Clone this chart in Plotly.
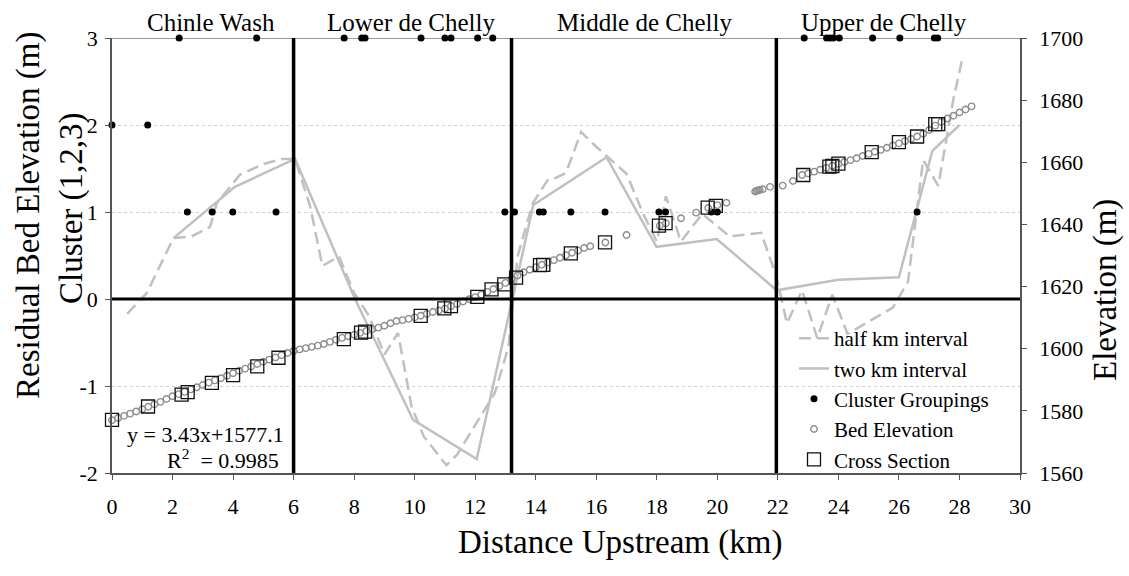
import plotly.graph_objects as go

# ---------------- data ----------------
# half km interval residuals (left axis, m)
half_x = [0.5, 1.15, 2.03, 2.63, 3.24, 3.46, 4.23, 5.0, 5.6, 6.05, 6.55, 6.95, 7.5, 8.0, 8.5, 9.0, 9.45, 9.9, 10.3, 11.05, 11.4, 12.0, 12.65, 13.1, 13.4, 13.9, 14.4, 14.65, 15.0, 15.5, 16.0, 17.0, 17.55, 18.0, 18.3, 18.8, 19.5, 20.4, 21.45, 21.95, 22.3, 22.8, 23.3, 23.8, 24.3, 24.8, 25.3, 25.8, 26.3, 26.8, 27.3, 27.8, 28.1]
half_y = [-0.17, 0.07, 0.70, 0.72, 0.83, 1.10, 1.43, 1.55, 1.61, 1.61, 1.06, 0.38, 0.49, 0.07, -0.2, -0.64, -0.39, -1.24, -1.58, -1.91, -1.79, -1.45, -1.08, -0.55, 0.49, 1.10, 1.37, 1.39, 1.45, 1.92, 1.75, 1.44, 0.98, 0.66, 1.18, 0.66, 0.98, 0.72, 0.76, 0.26, -0.28, 0.10, -0.45, 0.05, -0.40, -0.30, -0.20, -0.10, 0.20, 1.60, 1.30, 2.30, 2.77]

# two km interval residuals (left axis, m)
two_x = [2.03, 4.06, 6.05, 8.03, 9.95, 12.05, 13.92, 16.34, 17.99, 19.98, 21.96, 24.0, 26.0, 27.1, 28.0]
two_y = [0.70, 1.29, 1.61, 0.00, -1.39, -1.84, 1.08, 1.63, 0.60, 0.69, 0.10, 0.22, 0.25, 1.70, 2.00]

# cluster groupings (left axis, cluster 1/2/3)
cluster_x = [2.22, 4.78, 7.67, 8.25, 8.36, 10.21, 11.0, 11.2, 12.08, 12.58,
             22.87, 23.61, 23.72, 23.83, 24.03, 25.13, 26.03, 27.17, 27.28,
             0.0, 1.18,
             2.49, 3.31, 3.99, 5.42,
             12.98, 13.3, 14.12, 14.25, 15.16, 16.29, 18.07, 18.29, 19.8, 20.0, 26.6]
cluster_y = [3, 3, 3, 3, 3, 3, 3, 3, 3, 3,
             3, 3, 3, 3, 3, 3, 3, 3, 3,
             2, 2,
             1, 1, 1, 1,
             1, 1, 1, 1, 1, 1, 1, 1, 1, 1, 1]

# bed elevation (right axis, m)
bed_x = [0.0, 0.2, 0.4, 0.6, 0.8, 1.0, 1.2, 1.4, 1.6, 1.8, 2.0, 2.2, 2.4, 2.6, 2.8, 3.0, 3.2, 3.4, 3.6, 3.8,
         4.0, 4.2, 4.4, 4.6, 4.8, 5.0, 5.2, 5.4, 5.6, 5.8, 6.0, 6.2, 6.4, 6.6, 6.8, 7.0, 7.2, 7.4, 7.6, 7.8,
         8.0, 8.2, 8.4, 8.6, 8.8, 9.0, 9.2, 9.4, 9.6, 9.8, 10.0, 10.2, 10.4, 10.6, 10.8, 11.0, 11.2, 11.4, 11.6, 11.8,
         12.0, 12.2, 12.4, 12.6, 12.8, 13.0, 13.2, 13.4, 13.6, 13.8, 14.0, 14.2, 14.4, 14.6, 14.8, 15.0, 15.2, 15.4, 15.6, 15.8,
         16.3, 17.0, 18.1, 18.3, 18.8, 19.3, 19.7, 20.0, 20.3,
         21.25, 21.3, 21.35, 21.4, 21.5, 21.74, 22.16, 22.5,
         22.8, 23.0, 23.2, 23.4, 23.6, 23.8, 24.0, 24.2, 24.4, 24.6, 24.8, 25.0, 25.2, 25.4, 25.6, 25.8,
         26.0, 26.2, 26.4, 26.6, 26.8, 27.0, 27.2, 27.4, 27.6, 27.8, 28.0, 28.2, 28.4]
bed_elev = [1577.0, 1577.7, 1578.4, 1579.1, 1579.8, 1580.5, 1581.3, 1582.1, 1582.9, 1583.8, 1584.7, 1585.4, 1586.1, 1586.9, 1587.6, 1588.3, 1589.1, 1589.8, 1590.5, 1591.3,
            1592.1, 1592.9, 1593.6, 1594.3, 1595.1, 1595.8, 1596.5, 1597.2, 1597.9, 1598.6, 1599.3, 1599.8, 1600.2, 1600.6, 1601.0, 1601.5, 1602.2, 1602.9, 1603.5, 1604.0,
            1604.5, 1605.1, 1605.7, 1606.3, 1606.8, 1607.4, 1608.2, 1608.9, 1609.2, 1609.6, 1610.1, 1610.6, 1611.2, 1611.8, 1612.3, 1612.9, 1613.7, 1614.4, 1615.2, 1615.9,
            1616.6, 1617.4, 1618.3, 1619.2, 1620.2, 1621.2, 1622.4, 1623.6, 1624.6, 1625.4, 1626.2, 1627.0, 1627.8, 1628.5, 1629.3, 1630.1, 1630.9, 1631.6, 1632.4, 1633.0,
            1634.2, 1636.6, 1639.6, 1640.4, 1642.0, 1643.8, 1645.3, 1646.2, 1647.0,
            1650.6, 1650.8, 1651.0, 1651.1, 1651.3, 1652.1, 1652.5, 1654.0,
            1655.9, 1656.4, 1657.0, 1657.6, 1658.2, 1658.9, 1659.5, 1660.1, 1660.7, 1661.3, 1662.0, 1662.7, 1663.4, 1664.0, 1664.7, 1665.4,
            1666.1, 1666.8, 1667.5, 1668.3, 1669.2, 1670.4, 1671.8, 1673.0, 1674.1, 1675.0, 1676.0, 1677.0, 1678.0]

# cross sections (right axis, m)
xs_x = [0.0, 1.19, 2.3, 2.5, 3.3, 4.0, 4.8, 5.5, 7.66, 8.23, 8.36, 10.2, 10.98, 11.2, 12.07, 12.54, 12.96, 13.35,
        14.14, 14.25, 15.16, 16.29, 18.07, 18.29, 19.68, 19.95, 22.84, 23.7, 23.8, 24.0, 25.1, 26.0, 26.6, 27.2, 27.3]
xs_elev = [1577.1, 1581.4, 1585.2, 1586.0, 1589.0, 1591.5, 1594.3, 1597.1, 1603.1, 1605.2, 1605.5, 1610.6, 1613.0, 1613.7,
           1616.7, 1619.1, 1620.7, 1622.9, 1626.9, 1627.0, 1630.7, 1634.2, 1639.6, 1640.4, 1645.4, 1646.0, 1655.9,
           1658.6, 1658.8, 1659.6, 1663.3, 1666.5, 1668.3, 1672.3, 1672.3]

region_names = ["Chinle Wash", "Lower de Chelly", "Middle de Chelly", "Upper de Chelly"]
region_centers = [3.27, 9.9, 17.6, 25.5]
region_bounds = [6.0, 13.2, 21.95]

x_ticks = list(range(0, 31, 2))
left_ticks = [-2, -1, 0, 1, 2, 3]
right_ticks = [1560, 1580, 1600, 1620, 1640, 1660, 1680, 1700]

# ---------------- figure ----------------
FONT = "Liberation Serif, Times New Roman, serif"
L, R, T, B = 112, 109, 38, 103
W, H = 1129, 576
PW, PH = W - L - R, H - T - B

def px_x(px):
    return (px - L) / PW

def px_y(py):
    return (H - B - py) / PH

fig = go.Figure()

fig.add_trace(go.Scatter(x=half_x, y=half_y, mode="lines", name="half km interval",
                         line=dict(color="#c0c0c0", width=2.5, dash="12px,6px"), legendrank=1))
fig.add_trace(go.Scatter(x=two_x, y=two_y, mode="lines", name="two km interval",
                         line=dict(color="#c0c0c0", width=2.5), legendrank=2))
fig.add_trace(go.Scatter(x=bed_x, y=bed_elev, mode="markers", name="Bed Elevation", yaxis="y2",
                         cliponaxis=False,
                         marker=dict(symbol="circle-open", size=6.5, color="#8e8e8e", line=dict(width=1.4)),
                         legendrank=4))
fig.add_trace(go.Scatter(x=xs_x, y=xs_elev, mode="markers", name="Cross Section", yaxis="y2",
                         cliponaxis=False,
                         marker=dict(symbol="square-open", size=13, color="#111111", line=dict(width=1.3)),
                         legendrank=5))
fig.add_trace(go.Scatter(x=cluster_x, y=cluster_y, mode="markers", name="Cluster Groupings",
                         cliponaxis=False,
                         marker=dict(symbol="circle", size=7, color="#000000"), legendrank=3))

shapes = []
# zero line
shapes.append(dict(type="line", xref="x", yref="y", x0=0, x1=30, y0=0, y1=0,
                   line=dict(color="#000000", width=3), layer="above"))
# top border
shapes.append(dict(type="line", xref="x", yref="y", x0=0, x1=30, y0=3, y1=3,
                   line=dict(color="#999999", width=2), layer="below"))
for xb in region_bounds:
    shapes.append(dict(type="line", xref="x", yref="y", x0=xb, x1=xb, y0=-2, y1=3,
                       line=dict(color="#000000", width=3.5), layer="above"))

annotations = []
for name, xc in zip(region_names, region_centers):
    annotations.append(dict(x=xc, xref="x", y=px_y(22), yref="paper", text=name, showarrow=False,
                            font=dict(family=FONT, size=25, color="#000"), xanchor="center", yanchor="middle"))
annotations.append(dict(x=px_x(620), xref="paper", y=px_y(542), yref="paper", text="Distance Upstream (km)",
                        showarrow=False, xanchor="center", yanchor="middle",
                        font=dict(family=FONT, size=33, color="#000")))
annotations.append(dict(x=px_x(28), xref="paper", y=px_y(215), yref="paper", text="Residual Bed Elevation (m)",
                        showarrow=False, textangle=-90, xanchor="center", yanchor="middle",
                        font=dict(family=FONT, size=33, color="#000")))
annotations.append(dict(x=px_x(72), xref="paper", y=px_y(208), yref="paper", text="Cluster (1,2,3)",
                        showarrow=False, textangle=-90, xanchor="center", yanchor="middle",
                        font=dict(family=FONT, size=33, color="#000")))
annotations.append(dict(x=px_x(1105), xref="paper", y=px_y(290), yref="paper", text="Elevation (m)",
                        showarrow=False, textangle=-90, xanchor="center", yanchor="middle",
                        font=dict(family=FONT, size=33, color="#000")))
annotations.append(dict(x=0.42, xref="x", y=-1.56, yref="y", text="y = 3.43x+1577.1", xanchor="left",
                        yanchor="middle", showarrow=False, font=dict(family=FONT, size=22, color="#000")))
annotations.append(dict(x=1.75, xref="x", y=-1.84, yref="y", text="R<sup>2</sup>  = 0.9985", xanchor="left",
                        yanchor="middle", showarrow=False, font=dict(family=FONT, size=22, color="#000")))

fig.update_layout(
    width=W, height=H,
    margin=dict(l=L, r=R, t=T, b=B, pad=0),
    paper_bgcolor="white", plot_bgcolor="white",
    font=dict(family=FONT, size=22, color="#000"),
    showlegend=True,
    legend=dict(x=px_x(794), y=px_y(318), xanchor="left", yanchor="top",
                bgcolor="rgba(0,0,0,0)", font=dict(family=FONT, size=21, color="#000"),
                itemwidth=30, tracegroupgap=0),
    xaxis=dict(range=[0, 30], tickvals=x_ticks, ticktext=[str(v) for v in x_ticks],
               showgrid=False, zeroline=False, showline=True, linecolor="#555", linewidth=1.5,
               ticks="outside", ticklen=5, tickcolor="#555", mirror=False,
               tickfont=dict(family=FONT, size=22), ticklabelstandoff=8),
    yaxis=dict(range=[-2, 3], tickvals=left_ticks, ticktext=[str(v) for v in left_ticks],
               showgrid=True, gridcolor="#d0d0d0", griddash="dot", gridwidth=1,
               zeroline=False, showline=True, linecolor="#555", linewidth=1.5,
               ticks="outside", ticklen=5, tickcolor="#555",
               tickfont=dict(family=FONT, size=22), ticklabelstandoff=3),
    yaxis2=dict(range=[1560, 1700], tickvals=right_ticks, ticktext=[str(v) for v in right_ticks],
                overlaying="y", side="right", showgrid=False, zeroline=False,
                showline=True, linecolor="#555", linewidth=1.5,
                ticks="outside", ticklen=5, tickcolor="#555",
                tickfont=dict(family=FONT, size=22), ticklabelstandoff=8),
    shapes=shapes, annotations=annotations,
)

fig.write_html("out.html")
